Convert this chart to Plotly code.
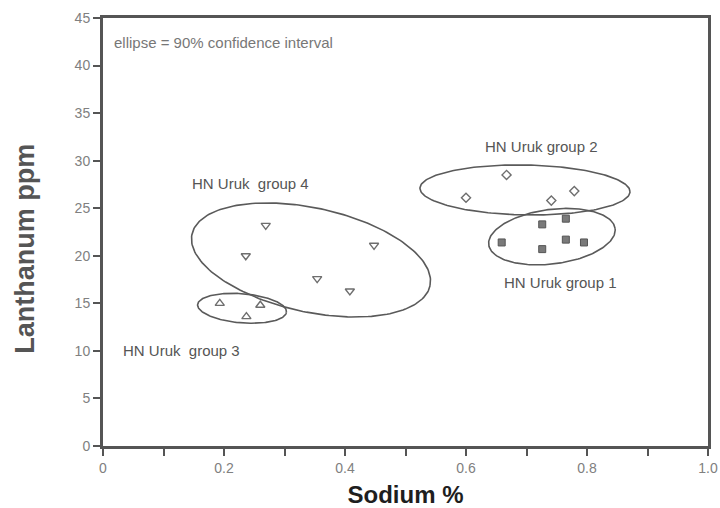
import numpy as np
import plotly.graph_objects as go

# ---- data ----
g1_sodium = [0.726, 0.765, 0.659, 0.726, 0.765, 0.795]
g1_la = [23.3, 23.9, 21.4, 20.7, 21.7, 21.4]
g2_sodium = [0.667, 0.600, 0.741, 0.779]
g2_la = [28.5, 26.1, 25.8, 26.8]
g3_sodium = [0.193, 0.260, 0.237]
g3_la = [15.0, 14.8, 13.6]
g4_sodium = [0.269, 0.236, 0.448, 0.354, 0.408]
g4_la = [23.2, 20.0, 21.1, 17.6, 16.3]

# 90% confidence ellipses: centre (sodium, ppm), semi-axes (in sodium units of screen length), tilt (deg)
ell_names = ["group 1", "group 2", "group 3", "group 4"]
ell_cx = [0.742, 0.6975, 0.2298, 0.3438]
ell_cy = [22.01, 26.92, 14.48, 19.56]
ell_a = [0.1053, 0.1736, 0.0737, 0.2013]
ell_b = [0.0451, 0.0413, 0.0241, 0.0860]
ell_ang = [7.3, -1.0, -4.75, -12.25]

x_ticks = [0, 0.1, 0.2, 0.3, 0.4, 0.5, 0.6, 0.7, 0.8, 0.9, 1.0]
x_tick_text = ["0", "", "0.2", "", "0.4", "", "0.6", "", "0.8", "", "1.0"]
y_ticks = [0, 5, 10, 15, 20, 25, 30, 35, 40, 45]

# ---- layout geometry ----
W, H = 720, 508
ML, MR, MT, MB = 103, 12, 18, 62
PW, PH = W - ML - MR, H - MT - MB
XR, YR = (0, 1.0), (0, 45)
# ppm per one sodium unit of equal screen length
k = (PW / (XR[1] - XR[0])) / (PH / (YR[1] - YR[0]))

FONT = "Liberation Sans, Arial, sans-serif"
GRAY = "#6e6e6e"
fig = go.Figure()

t = np.linspace(0, 2 * np.pi, 200)
for cx, cy, a, b, ang in zip(ell_cx, ell_cy, ell_a, ell_b, ell_ang):
    th = np.radians(ang)
    u = a * np.cos(t) * np.cos(th) - b * np.sin(t) * np.sin(th)
    v = a * np.cos(t) * np.sin(th) + b * np.sin(t) * np.cos(th)
    fig.add_trace(go.Scatter(x=cx + u, y=cy + v * k, mode="lines",
                             line=dict(color="#5a5a5a", width=1.6),
                             hoverinfo="skip", showlegend=False))

fig.add_trace(go.Scatter(x=g4_sodium, y=g4_la, mode="markers", showlegend=False,
                         marker=dict(symbol="triangle-down-open", size=8,
                                     color=GRAY, line=dict(width=1.4))))
fig.add_trace(go.Scatter(x=g3_sodium, y=g3_la, mode="markers", showlegend=False,
                         marker=dict(symbol="triangle-up-open", size=8,
                                     color=GRAY, line=dict(width=1.4))))
fig.add_trace(go.Scatter(x=g2_sodium, y=g2_la, mode="markers", showlegend=False,
                         marker=dict(symbol="diamond-open", size=7,
                                     color=GRAY, line=dict(width=1.4))))
fig.add_trace(go.Scatter(x=g1_sodium, y=g1_la, mode="markers", showlegend=False,
                         marker=dict(symbol="square", size=7, color="#7a7a7a",
                                     line=dict(color="#555555", width=1))))

lab_font = dict(family=FONT, size=15, color="#555555")
fig.add_annotation(x=0.015, y=42.4, text="ellipse = 90% confidence interval",
                   showarrow=False, xanchor="left", yanchor="middle",
                   font=dict(family=FONT, size=15, color="#777777"))
fig.add_annotation(x=0.243, y=27.65, text="HN Uruk\u00a0 group 4", showarrow=False, font=lab_font)
fig.add_annotation(x=0.724, y=31.54, text="HN Uruk group 2", showarrow=False, font=lab_font)
fig.add_annotation(x=0.757, y=17.14, text="HN Uruk group 1", showarrow=False, font=lab_font)
fig.add_annotation(x=0.129, y=10.09, text="HN Uruk\u00a0 group 3", showarrow=False, font=lab_font)

# y-axis title (placed slightly below the axis middle, as in the reference)
fig.add_annotation(xref="paper", x=-0.128, y=20.7, text="<b>Lanthanum ppm</b>",
                   textangle=-90, showarrow=False, xanchor="center", yanchor="middle",
                   font=dict(family=FONT, size=27, color="#555555"))

axis_common = dict(showgrid=False, zeroline=False, showline=True, linecolor="#555555",
                   linewidth=3, mirror=True, ticks="outside", ticklen=7, tickwidth=1.5,
                   tickcolor="#555555", automargin=False,
                   tickfont=dict(family=FONT, size=14, color="#808080"))

fig.update_xaxes(range=list(XR), tickvals=x_ticks, ticktext=x_tick_text,
                 title=dict(text="<b>Sodium %</b>", standoff=12,
                            font=dict(family=FONT, size=24, color="#1e1e1e")),
                 **axis_common)
fig.update_yaxes(range=list(YR), tickvals=y_ticks, **axis_common)

fig.update_layout(width=W, height=H, margin=dict(l=ML, r=MR, t=MT, b=MB),
                  paper_bgcolor="white", plot_bgcolor="white")

fig.write_html("out.html", config={"displayModeBar": False},
               post_script="document.body.style.margin='0';")
